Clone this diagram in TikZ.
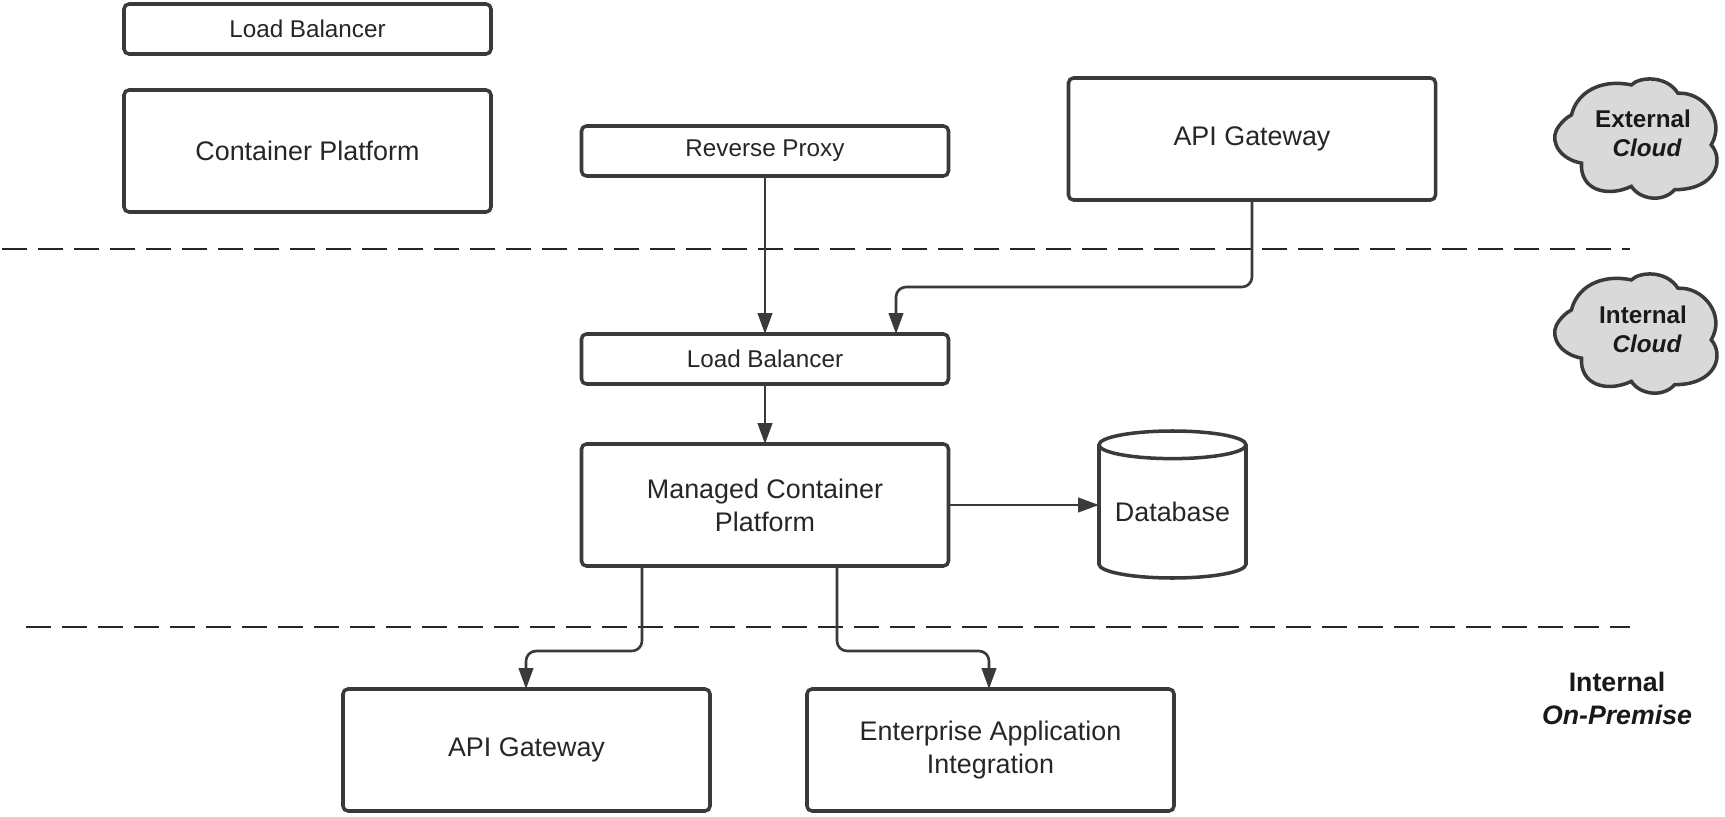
\documentclass[tikz,border=0pt]{standalone}
\usepackage{fontspec}
\setmainfont{Liberation Sans}
\usetikzlibrary{arrows.meta,shapes.geometric}
\definecolor{inkgray}{HTML}{3A3A3A}
\definecolor{cloudgray}{HTML}{D9D9D9}
\tikzset{
  box/.style={draw=inkgray,line width=1pt,rounded corners=.05cm,minimum width=3.67cm,outer sep=0pt,inner sep=0pt,align=center,text=black!85,font=\fontsize{7.65}{9.4}\selectfont},
  bigbox/.style={box,minimum height=1.22cm},
  smallbox/.style={box,minimum height=.5cm,font=\fontsize{6.9}{8.5}\selectfont},
  flow/.style={draw=inkgray,line width=.75pt,rounded corners=.1cm,-{Triangle[length=.21cm,width=.145cm]}},
  zoneline/.style={draw=black!85,line width=.65pt,dash pattern=on .25cm off .11cm},
  zonetext/.style={text=black!90,font=\fontsize{6.9}{8.5}\selectfont\bfseries},
  zoneital/.style={text=black!90,font=\fontsize{6.9}{8.5}\selectfont\bfseries\itshape},
  cloudpic/.pic={
    \draw[draw=inkgray,fill=cloudgray,line width=1pt,x=.003333cm,y=-.003333cm]
      (245,340) .. controls (185,330) and (150,280) .. (170,240)
      .. controls (178,225) and (195,205) .. (215,195)
      .. controls (230,130) and (300,85) .. (395,105)
      .. controls (420,80) and (500,75) .. (535,130)
      .. controls (610,125) and (680,210) .. (635,285)
      .. controls (675,330) and (650,420) .. (525,420)
      .. controls (490,460) and (420,450) .. (395,410)
      .. controls (320,445) and (240,420) .. (245,340) -- cycle;
  }
}
\begin{document}
\begin{tikzpicture}
\useasboundingbox (0,0) rectangle (17.25,8.16);
% external cloud
\node[smallbox] (lbtop) at (3.075,7.87) {Load Balancer};
\node[bigbox] (cptop) at (3.075,6.65) {Container Platform};
\node[smallbox] (rproxy) at (7.65,6.65) {Reverse Proxy};
\node[bigbox] (gwext) at (12.52,6.77) {API Gateway};
% internal cloud
\node[smallbox] (lbmid) at (7.65,4.57) {Load Balancer};
\node[bigbox] (mcp) at (7.65,3.11) {Managed Container\\Platform};
\node[draw=inkgray,line width=1pt,shape=cylinder,shape border rotate=90,aspect=.24,minimum width=1.47cm,minimum height=1.47cm,inner sep=0pt,outer sep=0pt,anchor=shape center,text=black!85,font=\fontsize{7.65}{9.4}\selectfont] (db) at (11.725,3.115) {Database};
% on-premise
\node[bigbox] (gwint) at (5.265,.66) {API Gateway};
\node[bigbox] (eai) at (9.905,.66) {Enterprise Application\\Integration};
% zone lines
\draw[zoneline] (.02,5.67) -- (16.30,5.67);
\draw[zoneline] (.26,1.89) -- (16.30,1.89);
% connectors
\coordinate (lbin) at (8.96,4.82);
\coordinate (mcleft) at (6.42,2.5);
\coordinate (mcright) at (8.37,2.5);
\coordinate (gwin) at (5.26,1.27);
\coordinate (eaiin) at (9.89,1.27);
\draw[flow] (rproxy) -- (lbmid);
\draw[flow] (gwext.south) -- ++(0,-.87) -| (lbin);
\draw[flow] (lbmid) -- (mcp);
\draw[flow] (mcp.east) -- (mcp.east -| db.west);
\draw[flow] (mcleft) -- ++(0,-.85) -| (gwin);
\draw[flow] (mcright) -- ++(0,-.85) -| (eaiin);
% clouds
\pic at (15,7.66) {cloudpic};
\pic at (15,5.71) {cloudpic};
\node[zonetext] (extlabel) at (16.43,6.97) {External};
\node[zoneital] (extcloud) at (16.47,6.68) {Cloud};
\node[zonetext] (intlabel) at (16.43,5.01) {Internal};
\node[zoneital] (intcloud) at (16.47,4.72) {Cloud};
\node[zonetext,font=\fontsize{7.6}{9}\selectfont\bfseries] (premlabel) at (16.17,1.34) {Internal};
\node[zoneital,font=\fontsize{7.6}{9}\selectfont\bfseries\itshape] (premsub) at (16.17,1.01) {On-Premise};
\end{tikzpicture}
\end{document}
